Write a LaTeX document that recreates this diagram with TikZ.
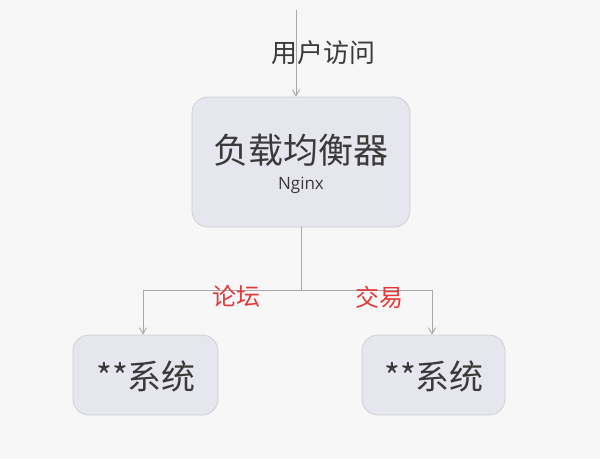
\documentclass[tikz,border=0pt]{standalone}
\usepackage{fontspec}
\setmainfont{Noto Sans CJK SC}
\newfontfamily\cjk{Noto Sans CJK SC}
\newfontfamily\latinsans{Open Sans}
\usetikzlibrary{arrows.meta}
\definecolor{boxfill}{HTML}{E6E6EE}
\definecolor{boxline}{HTML}{CFCFD6}
\definecolor{linegray}{HTML}{A8A8A8}
\definecolor{txtgray}{HTML}{3A3A3A}
\definecolor{lblred}{HTML}{E23A3A}
\definecolor{bggray}{HTML}{F7F7F7}
\begin{document}
\begin{tikzpicture}[x=1pt,y=-1pt,
  boxstyle/.style={draw=boxline, line width=0.8pt, fill=boxfill, rounded corners=16pt, inner sep=0pt},
  conn/.style={draw=linegray, line width=0.9pt},
  arr/.style={conn, -{Straight Barb[length=6pt,width=7pt]}},
  redlbl/.style={text=lblred, font=\cjk\fontsize{24}{26}\selectfont, inner sep=0pt},
  systxt/.style={text=txtgray, font=\cjk\fontsize{34}{36}\selectfont, inner sep=0pt}
]
\fill[bggray] (0,0) rectangle (600,459);
\useasboundingbox (0,0) rectangle (600,459);

% boxes
\node[boxstyle, minimum width=218pt, minimum height=130pt] (lb) at (301,162) {};
\node[text=txtgray, font=\cjk\fontsize{35}{38}\selectfont, inner sep=0pt] (lbt) at (301,150) {负载均衡器};
\node[text=txtgray, font=\latinsans\fontsize{17}{19}\selectfont, inner sep=0pt] (lbn) at (301,185) {Nginx};

\node[boxstyle, minimum width=145pt, minimum height=80pt] (sa) at (145.5,375) {};
\node[systxt] (sat) at (146,376) {**系统};
\node[boxstyle, minimum width=143pt, minimum height=80pt] (sb) at (433.5,375) {};
\node[systxt] (sbt) at (434,376) {**系统};

% top arrow
\coordinate (top) at (296,10);
\draw[arr] (top) -- (top |- lb.north);
\node[text=txtgray, font=\cjk\fontsize{26}{28}\selectfont, inner sep=0pt] (ua) at (323,53) {用户访问};

% branches
\coordinate (jn) at (301,290);
\coordinate (jl) at (143,290);
\coordinate (jr) at (432,290);
\draw[conn] (lb.south -| jn) -- (jn);
\draw[conn] (jl) -- (jr);
\draw[arr] (jl) -- (jl |- sa.north);
\draw[arr] (jr) -- (jr |- sb.north);

\node[redlbl] (lf) at (236,296) {论坛};
\node[redlbl] (jy) at (379,297) {交易};
\end{tikzpicture}
\end{document}
